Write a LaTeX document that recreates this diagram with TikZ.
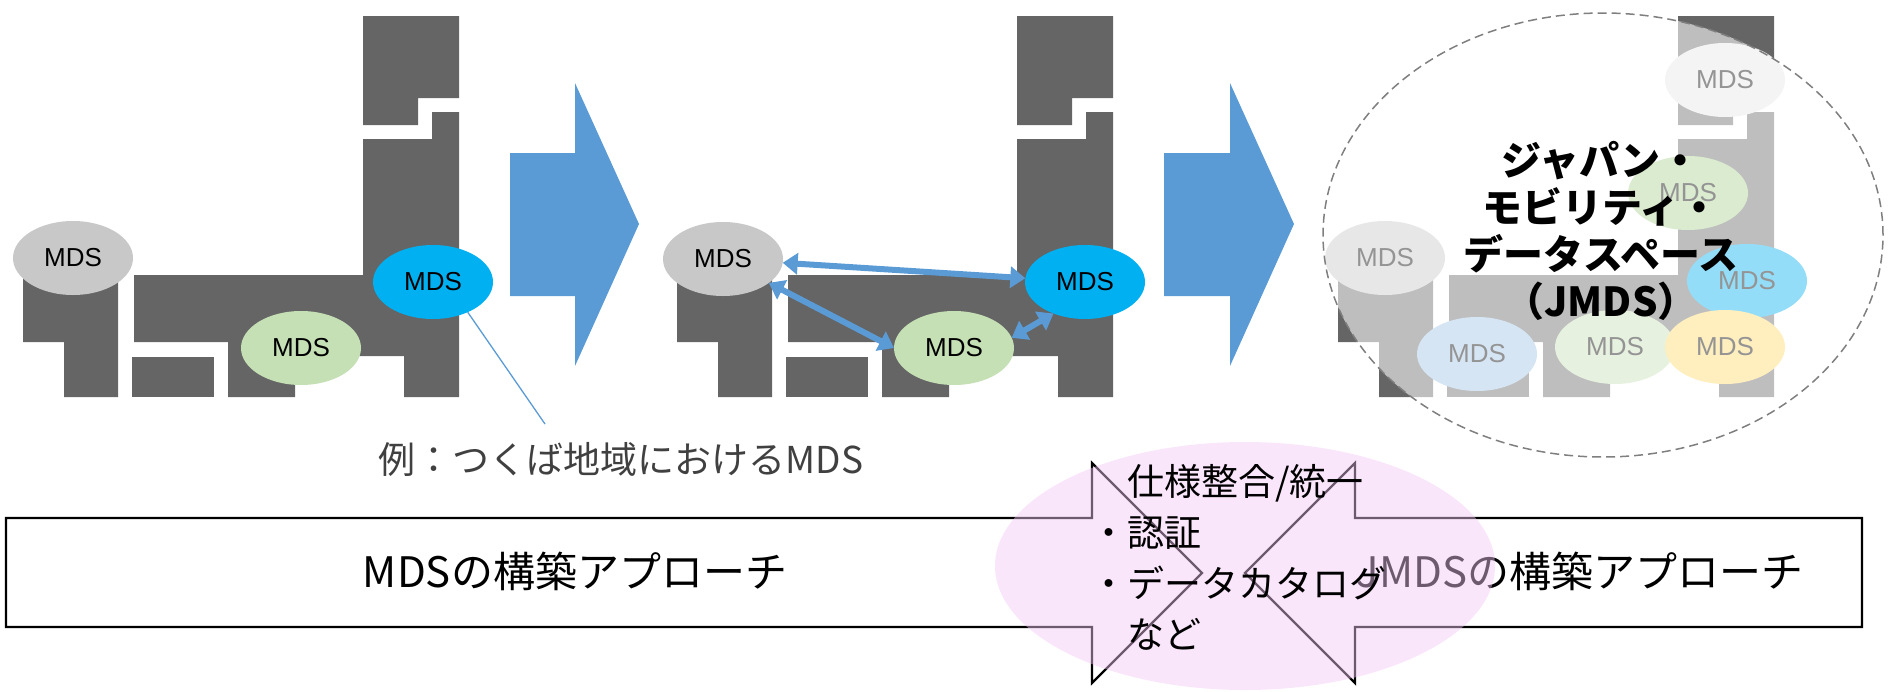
\documentclass[tikz,border=0pt]{standalone}
\usepackage{fontspec}
\usetikzlibrary{shapes.geometric,arrows.meta}
\newfontfamily\jp{Noto Sans CJK JP}
\newfontfamily\lat{Liberation Sans}

\definecolor{mapdark}{HTML}{656565}
\definecolor{arrowblue}{HTML}{5B9BD5}
\definecolor{mdsgray}{HTML}{C8C8C8}
\definecolor{mdsblue}{HTML}{00B0F0}
\definecolor{mdsgreen}{HTML}{C5E0B4}
\definecolor{mdsgreendeep}{HTML}{A9D18E}
\definecolor{mdslight}{HTML}{E7E6E6}
\definecolor{mdsyellow}{HTML}{FFD966}
\definecolor{mdssky}{HTML}{9DC3E6}
\definecolor{labelgray}{HTML}{404040}
\definecolor{dashgray}{HTML}{7F7F7F}
\definecolor{pinkzone}{HTML}{F5C8F5}

% Japan-shaped silhouette made of blocks
\newcommand{\islands}{%
  \fill[mapdark] (363,16) -- (459,16) -- (459,98) -- (418,98) -- (418,125) -- (363,125) -- cycle;
  \fill[mapdark] (363,139) -- (432,139) -- (432,112) -- (459,112) -- (459,397) -- (404,397)
     -- (404,356) -- (295,356) -- (295,397) -- (228,397) -- (228,342) -- (134,342)
     -- (134,275) -- (363,275) -- cycle;
  \fill[mapdark] (23,270) -- (118,270) -- (118,397) -- (64,397) -- (64,342) -- (23,342) -- cycle;
  \fill[mapdark] (132,357) rectangle (214,397);
}

\tikzset{
  mds/.style={ellipse, minimum width=120pt, minimum height=74pt, inner sep=0pt,
    outer sep=0pt, font=\lat\fontsize{26}{26}\selectfont, text=black},
  bigarrow/.style={fill=arrowblue},
  link/.style={draw=arrowblue, line width=6pt,
    {Triangle[length=15pt,width=21pt]}-{Triangle[length=15pt,width=21pt]}},
  pointer/.style={draw=arrowblue, line width=1.3pt},
  callout/.style={draw=black, line width=2.2pt, fill=white, line join=miter},
  approach/.style={font=\jp\fontsize{42}{50}\selectfont, inner sep=0pt},
}

\begin{document}
\begin{tikzpicture}[x=1pt, y=-1pt]
\useasboundingbox (0,0) rectangle (1889,691);

% ---- regional data space ----
\islands
\node[mds, fill=mdsgray]  (g1)  at (73,258)  {MDS};
\node[mds, fill=mdsgreen] (gr1) at (301,348) {MDS};
\node[mds, fill=mdsblue]  (b1)  at (433,282) {MDS};
\coordinate (ann) at (545,424);
\draw[pointer] (b1.-41) -- (ann);
\node[font=\jp\fontsize{37}{44}\selectfont, text=labelgray, inner sep=0pt] (example)
  at (621,459) {例：つくば地域におけるMDS};

% ---- step arrow ----
\fill[bigarrow] (510,153) -- (575,153) -- (575,83) -- (639,224) -- (575,366)
  -- (575,296) -- (510,296) -- cycle;

% ---- linked data spaces ----
\begin{scope}[xshift=654pt]
  \islands
\end{scope}
\node[mds, fill=mdsgray]  (g2)  at (723,259)  {MDS};
\node[mds, fill=mdsgreen] (gr2) at (954,348)  {MDS};
\node[mds, fill=mdsblue]  (b2)  at (1085,282) {MDS};
\draw[link] (g2) -- (b2);
\draw[link] (g2) -- (gr2.west);
\draw[link] (gr2.10) -- (b2.225);

% ---- step arrow ----
\fill[bigarrow] (1164,153) -- (1230,153) -- (1230,83) -- (1294,224) -- (1230,366)
  -- (1230,296) -- (1164,296) -- cycle;

% ---- nationwide data space ----
\begin{scope}[xshift=1315pt]
  \islands
\end{scope}
\node[mds, fill=mdslight]     (m1) at (1725,80)  {MDS};
\node[mds, fill=mdsgray]      (m2) at (1385,258) {MDS};
\node[mds, fill=mdsgreendeep] (m3) at (1688,193) {MDS};
\node[mds, fill=mdsblue]      (m4) at (1747,281) {MDS};
\node[mds, fill=mdssky]       (m5) at (1477,354) {MDS};
\node[mds, fill=mdsgreen]     (m6) at (1615,347) {MDS};
\node[mds, fill=mdsyellow]    (m7) at (1725,347) {MDS};
\fill[white, fill opacity=0.58] (1603,235) ellipse [x radius=280pt, y radius=222pt];
\draw[dashgray, line width=1.5pt, dash pattern=on 9pt off 5pt]
  (1603,235) ellipse [x radius=280pt, y radius=222pt];
\node[font=\jp\bfseries\fontsize{40}{47}\selectfont, align=center, inner sep=0pt] (jmds)
  at (1601,231) {ジャパン・\\モビリティ・\\データスペース\\（JMDS）};

% ---- construction approaches ----
\draw[callout] (6,518) -- (1092,518) -- (1092,463) -- (1202,573) -- (1092,683)
  -- (1092,627) -- (6,627) -- cycle;
\draw[callout] (1862,518) -- (1355,518) -- (1355,463) -- (1245,573) -- (1355,683)
  -- (1355,627) -- (1862,627) -- cycle;
\node[approach] (leftapp)  at (575,571)  {MDSの構築アプローチ};
\node[approach] (rightapp) at (1580,571) {JMDSの構築アプローチ};

\fill[pinkzone, fill opacity=0.45] (1245,566) ellipse [x radius=250pt, y radius=124pt];
\node[font=\jp\fontsize{37}{51}\selectfont, align=left, anchor=north west, inner sep=0pt]
  (common) at (1127,464)
  {仕様整合/統一\\\llap{・}認証\\\llap{・}データカタログ\\など};
\end{tikzpicture}
\end{document}
